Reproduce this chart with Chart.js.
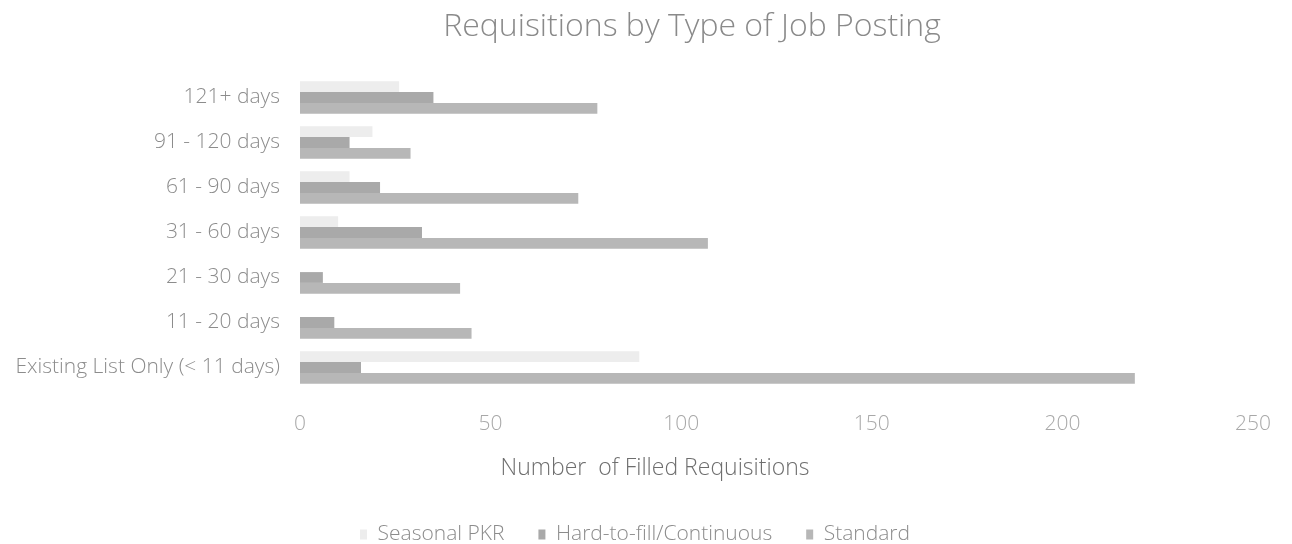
<!DOCTYPE html>
<html>
<head>
<meta charset="utf-8">
<script src="https://cdn.jsdelivr.net/npm/chart.js@4"></script>
<style>
    html, body { margin: 0; padding: 0; background: #ffffff; overflow: hidden; }
    #wrap { width: 1292px; height: 544px; position: relative; }
</style>
</head>
<body>
<div id="wrap"><canvas id="reqChart"></canvas></div>
<script>
// Chart data
const categories = [
    '121+ days',
    '91 - 120 days',
    '61 - 90 days',
    '31 - 60 days',
    '21 - 30 days',
    '11 - 20 days',
    'Existing List Only (< 11 days)'
];
const seasonalPkr = [26, 19, 13, 10, 0, 0, 89];
const hardToFill = [35, 13, 21, 32, 6, 9, 16];
const standard = [78, 29, 73, 107, 42, 45, 219];
const xTicks = [0, 50, 100, 150, 200, 250];

const chartTitle = 'Requisitions by Type of Job Posting';
const axisTitle = 'Number  of Filled Requisitions';

const FONT = '"Open Sans", "DejaVu Sans", sans-serif';

const COLORS = {
    seasonal: '#ededed',
    hard: '#a9a9a9',
    standard: '#b7b7b7',
    title: '#8a8a8a',
    axisTitle: '#6e6e6e',
    label: '#8c8c8c',
    tick: '#a8a8a8'
};

// title and axis title sit off-centre in the original, so draw them here
const captions = {
    id: 'captions',
    afterDraw(chart) {
        const { ctx, chartArea } = chart;
        ctx.save();
        ctx.textAlign = 'center';
        ctx.textBaseline = 'middle';
        ctx.fillStyle = COLORS.title;
        ctx.font = '300 32px ' + FONT;
        ctx.fillText(chartTitle, 692, 27);
        ctx.fillStyle = COLORS.axisTitle;
        ctx.font = '300 23px ' + FONT;
        ctx.fillText(axisTitle, 655, chartArea.bottom + 78);
        ctx.restore();
    }
};

const ctx = document.getElementById('reqChart').getContext('2d');
new Chart(ctx, {
    type: 'bar',
    data: {
        labels: categories,
        datasets: [
            { label: 'Seasonal PKR', data: seasonalPkr, backgroundColor: COLORS.seasonal },
            { label: 'Hard-to-fill/Continuous', data: hardToFill, backgroundColor: COLORS.hard },
            { label: 'Standard', data: standard, backgroundColor: COLORS.standard }
        ]
    },
    options: {
        indexAxis: 'y',
        responsive: true,
        maintainAspectRatio: false,
        animation: false,
        layout: { padding: { top: 75, right: 22, left: 0, bottom: -11 } },
        datasets: {
            bar: { barPercentage: 1.0, categoryPercentage: 0.72, borderWidth: 0 }
        },
        plugins: {
            title: { display: false },
            tooltip: { enabled: false },
            legend: {
                position: 'bottom',
                labels: {
                    color: COLORS.label,
                    font: { family: FONT, size: 21, weight: 300 },
                    boxWidth: 7,
                    boxHeight: 10,
                    padding: 34
                }
            }
        },
        scales: {
            x: {
                min: 0,
                max: 250,
                afterBuildTicks: (scale) => {
                    scale.ticks = xTicks.map((v) => ({ value: v }));
                },
                afterFit: (scale) => { scale.height = 100; },
                grid: { display: false, drawTicks: false },
                border: { display: false },
                ticks: {
                    color: COLORS.tick,
                    padding: 21,
                    font: { family: FONT, size: 21, weight: 300 }
                }
            },
            y: {
                afterFit: (scale) => { scale.width = 300; },
                grid: { display: false, drawTicks: false },
                border: { display: false },
                ticks: {
                    color: COLORS.label,
                    padding: 20,
                    font: { family: FONT, size: 21, weight: 300 }
                }
            }
        }
    },
    plugins: [captions]
});
</script>
</body>
</html>
